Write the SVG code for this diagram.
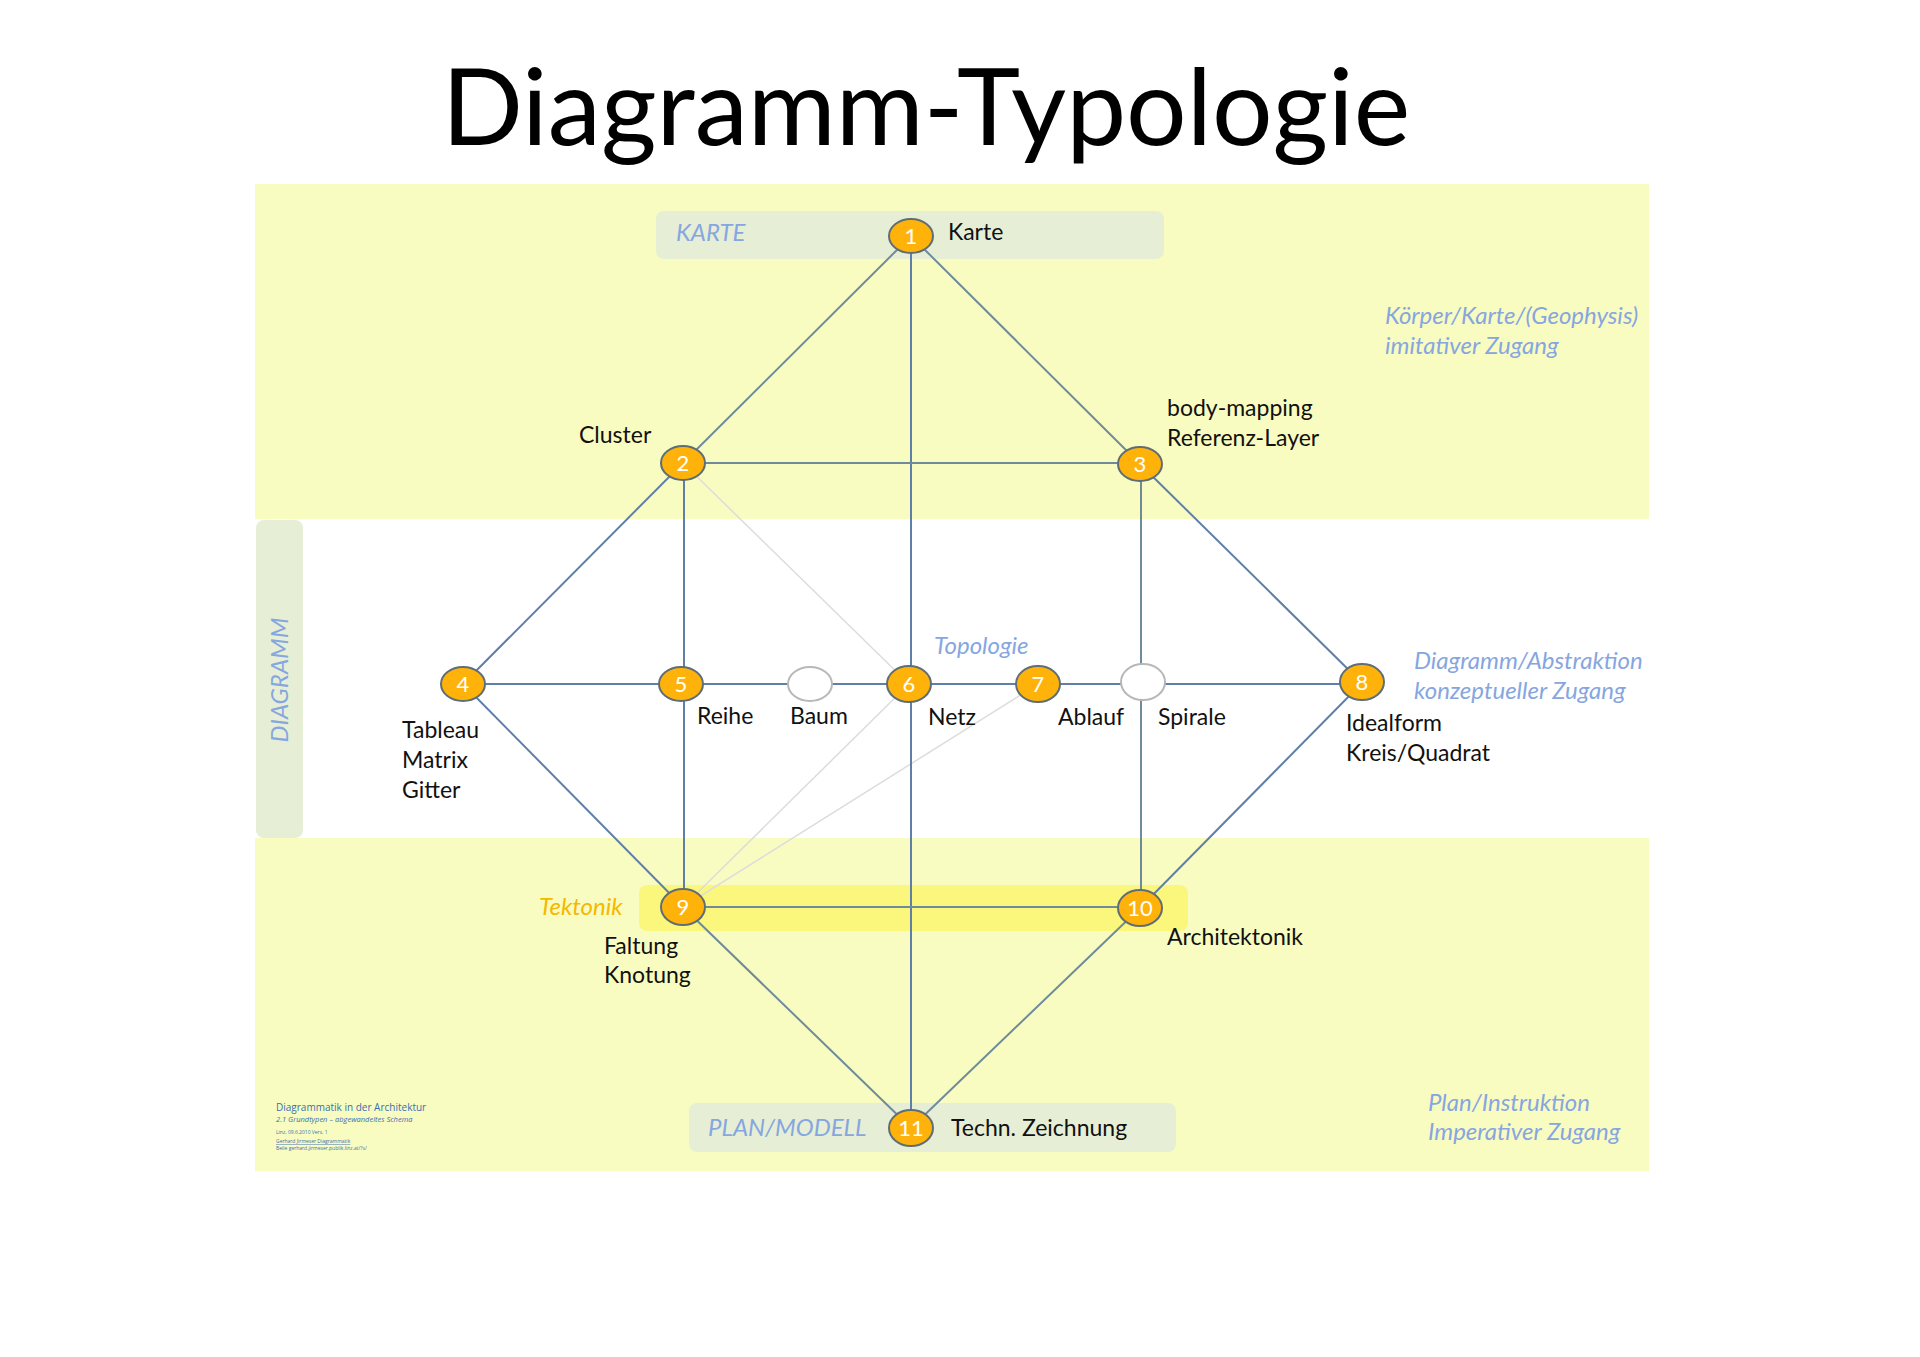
<svg xmlns="http://www.w3.org/2000/svg" width="1920" height="1357" viewBox="0 0 1920 1357">
<style>
.t{font-family:Lato,"Open Sans","Liberation Sans",sans-serif;font-size:23px;fill:#111}
.i{font-family:Lato,"Open Sans","Liberation Sans",sans-serif;font-size:24px;font-style:italic;fill:#86a6e0}
.n{fill:#ffb30a;stroke:#5f6e74;stroke-width:2}
.e{fill:#fff;stroke:#b8b8b8;stroke-width:2}
.num{font-family:Lato,"Open Sans","Liberation Sans",sans-serif;font-size:22px;fill:#fff;text-anchor:middle}
.l{stroke:#5f7fa8;stroke-width:2;fill:none}
.g{stroke:#6f8b9a;stroke-width:2;fill:none}
.f{stroke:#dcdcdc;stroke-width:1.5;fill:none}
.box{fill:#e6eed6}
.ft{font-family:"Open Sans","Liberation Sans",sans-serif;fill:#3a6fb5}
</style>
<rect width="1920" height="1357" fill="#fff"/>
<text x="926" y="145" font-family="Lato,'Open Sans','Liberation Sans',sans-serif" font-size="107" text-anchor="middle" fill="#000">Diagramm-Typologie</text>
<g id="background">
<rect x="255" y="184" width="1394" height="335" fill="#f9fcc0"/>
<rect x="255" y="838" width="1394" height="333" fill="#f9fcc0"/>
<rect x="256" y="520" width="47" height="318" rx="8" class="box"/>
<text class="i" transform="translate(288,680) rotate(-90)" text-anchor="middle">DIAGRAMM</text>
<rect x="656" y="211" width="508" height="48" rx="8" class="box"/>
<rect x="689" y="1103" width="487" height="49" rx="8" class="box"/>
<rect x="639" y="885" width="549" height="46" rx="8" fill="#fbf77c"/>
</g>
<g id="connectors">
<line class="f" x1="683" y1="463" x2="909" y2="684"/>
<line class="f" x1="683" y1="907" x2="909" y2="684"/>
<line class="f" x1="683" y1="907" x2="1038" y2="684"/>
<line class="l" x1="911" y1="236" x2="911" y2="1128"/>
<line class="l" x1="684" y1="463" x2="684" y2="907"/>
<line class="g" x1="1141" y1="464" x2="1141" y2="908"/>
<line class="l" x1="463" y1="684" x2="1362" y2="684"/>
<line class="g" x1="683" y1="463" x2="1140" y2="463"/>
<line class="g" x1="683" y1="907" x2="1140" y2="907"/>
<line class="g" x1="911" y1="236" x2="683" y2="463"/>
<line class="g" x1="911" y1="236" x2="1140" y2="464"/>
<line class="l" x1="683" y1="463" x2="463" y2="684"/>
<line class="l" x1="1140" y1="464" x2="1362" y2="683"/>
<line class="l" x1="463" y1="684" x2="683" y2="907"/>
<line class="l" x1="1362" y1="683" x2="1140" y2="908"/>
<line class="g" x1="683" y1="907" x2="911" y2="1128"/>
<line class="g" x1="1140" y1="908" x2="911" y2="1128"/>
</g>
<g id="node1"><ellipse class="n" cx="911" cy="236" rx="22" ry="17"/><text class="num" x="911" y="244">1</text><text class="t" x="948" y="240">Karte</text><text class="i" x="676" y="241">KARTE</text></g>
<g id="node2"><ellipse class="n" cx="683" cy="463" rx="22" ry="17"/><text class="num" x="683" y="471">2</text><text class="t" x="579" y="443">Cluster</text></g>
<g id="node3"><ellipse class="n" cx="1140" cy="464" rx="22" ry="17"/><text class="num" x="1140" y="472">3</text><text class="t" x="1167" y="416">body-mapping</text><text class="t" x="1167" y="446">Referenz-Layer</text></g>
<g id="node4"><ellipse class="n" cx="463" cy="684" rx="22" ry="17"/><text class="num" x="463" y="692">4</text><text class="t" x="402" y="738">Tableau</text><text class="t" x="402" y="768">Matrix</text><text class="t" x="402" y="798">Gitter</text></g>
<g id="node5"><ellipse class="n" cx="681" cy="684" rx="22" ry="17"/><text class="num" x="681" y="692">5</text><text class="t" x="697" y="724">Reihe</text></g>
<g id="baum"><ellipse class="e" cx="810" cy="684" rx="22" ry="17"/><text class="t" x="790" y="724">Baum</text></g>
<g id="node6"><ellipse class="n" cx="909" cy="684" rx="22" ry="18"/><text class="num" x="909" y="692">6</text><text class="t" x="928" y="725">Netz</text><text class="i" x="934" y="654">Topologie</text></g>
<g id="node7"><ellipse class="n" cx="1038" cy="684" rx="22" ry="18"/><text class="num" x="1038" y="692">7</text><text class="t" x="1058" y="725">Ablauf</text></g>
<g id="spirale"><ellipse class="e" cx="1143" cy="682" rx="22" ry="18"/><text class="t" x="1158" y="725">Spirale</text></g>
<g id="node8"><ellipse class="n" cx="1362" cy="682" rx="22" ry="18"/><text class="num" x="1362" y="690">8</text><text class="t" x="1346" y="731">Idealform</text><text class="t" x="1346" y="761">Kreis/Quadrat</text></g>
<g id="node9"><ellipse class="n" cx="683" cy="907" rx="22" ry="18"/><text class="num" x="683" y="915">9</text><text class="t" x="604" y="954">Faltung</text><text class="t" x="604" y="983">Knotung</text><text class="i" x="539" y="915" style="fill:#f5b800">Tektonik</text></g>
<g id="node10"><ellipse class="n" cx="1140" cy="908" rx="22" ry="18"/><text class="num" x="1140" y="916">10</text><text class="t" x="1167" y="945">Architektonik</text></g>
<g id="node11"><ellipse class="n" cx="911" cy="1128" rx="22" ry="18"/><text class="num" x="911" y="1136">11</text><text class="t" x="951" y="1136">Techn. Zeichnung</text><text class="i" x="708" y="1136">PLAN/MODELL</text></g>
<g id="side-labels">
<text class="i" x="1385" y="324">Körper/Karte/(Geophysis)</text>
<text class="i" x="1385" y="354">imitativer Zugang</text>
<text class="i" x="1414" y="669">Diagramm/Abstraktion</text>
<text class="i" x="1414" y="699">konzeptueller Zugang</text>
<text class="i" x="1428" y="1111">Plan/Instruktion</text>
<text class="i" x="1428" y="1140">Imperativer Zugang</text>
</g>
<g id="footer">
<text class="ft" x="276" y="1111" font-size="10">Diagrammatik  in der Architektur</text>
<text class="ft" x="276" y="1122" font-size="7.5" font-style="italic">2.1  Grundtypen – abgewandeltes Schema</text>
<text class="ft" x="276" y="1134" font-size="5" fill="#333">Linz, 09.6.2010  Vers. 1</text>
<text class="ft" x="276" y="1143" font-size="5" text-decoration="underline" fill="#0000cc">Gerhard Jirmeser Diagrammatik</text>
<text class="ft" x="276" y="1150" font-size="5">Beile gerhard.jirmeser.publik.linz.at/?s/</text>
</g>
</svg>
